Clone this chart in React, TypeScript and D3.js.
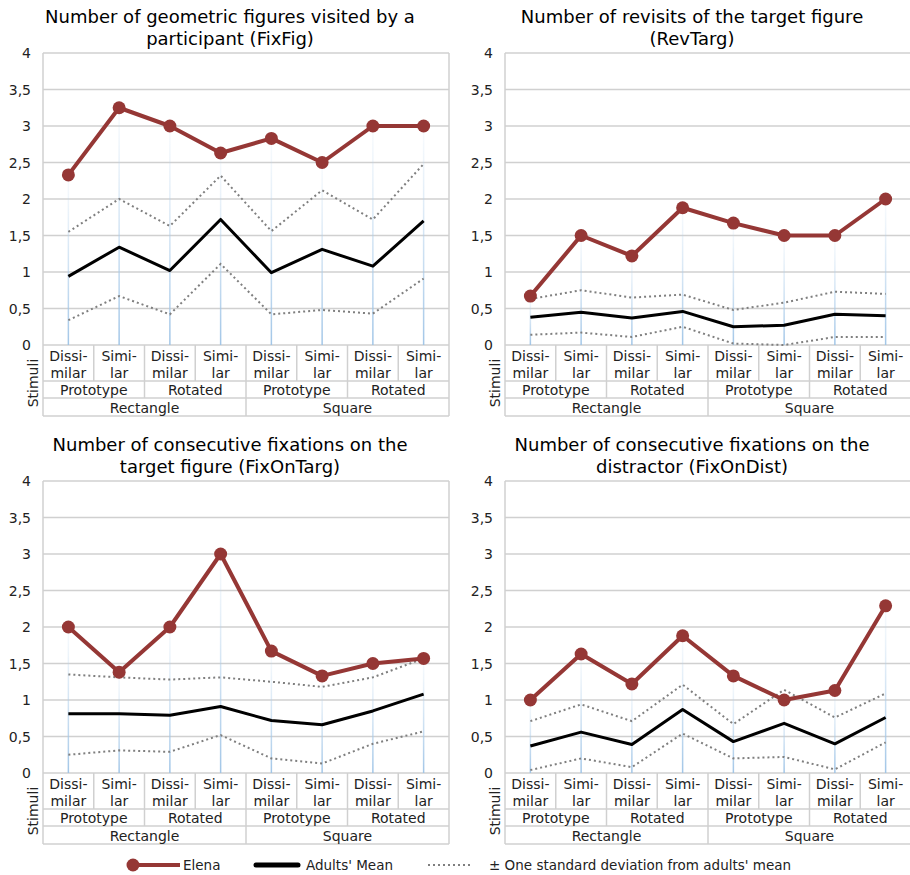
// eye-tracking results: Elena vs adults, four measures
import * as d3 from "d3";
import { useEffect, useRef } from "react";

const titles = [
  ["Number of geometric figures visited by a", "participant (FixFig)"],
  ["Number of revisits of the target figure", "(RevTarg)"],
  ["Number of consecutive fixations on the", "target figure (FixOnTarg)"],
  ["Number of consecutive fixations on the", "distractor (FixOnDist)"],
];

// stimulus categories (three levels)
const similarity = [["Dissi-", "milar"], ["Simi-", "lar"]];
const orientation = ["Prototype", "Rotated", "Prototype", "Rotated"];
const shape = ["Rectangle", "Square"];

const yTicks = [0, 0.5, 1, 1.5, 2, 2.5, 3, 3.5, 4];

// values per panel: FixFig, RevTarg, FixOnTarg, FixOnDist
const elena = [
  [2.33, 3.25, 3.0, 2.63, 2.83, 2.5, 3.0, 3.0],
  [0.67, 1.5, 1.22, 1.88, 1.67, 1.5, 1.5, 2.0],
  [2.0, 1.38, 2.0, 3.0, 1.67, 1.33, 1.5, 1.57],
  [1.0, 1.63, 1.22, 1.88, 1.33, 1.0, 1.13, 2.29],
];
const adultsMean = [
  [0.94, 1.34, 1.02, 1.72, 0.99, 1.31, 1.08, 1.7],
  [0.38, 0.45, 0.37, 0.46, 0.25, 0.27, 0.42, 0.4],
  [0.81, 0.81, 0.79, 0.91, 0.72, 0.66, 0.85, 1.08],
  [0.37, 0.56, 0.39, 0.87, 0.43, 0.68, 0.4, 0.76],
];
const sdUpper = [
  [1.55, 2.0, 1.63, 2.32, 1.56, 2.12, 1.72, 2.48],
  [0.63, 0.75, 0.65, 0.69, 0.48, 0.58, 0.73, 0.7],
  [1.35, 1.31, 1.28, 1.31, 1.25, 1.18, 1.31, 1.57],
  [0.71, 0.94, 0.71, 1.21, 0.67, 1.14, 0.76, 1.09],
];
const sdLower = [
  [0.34, 0.67, 0.42, 1.11, 0.42, 0.48, 0.43, 0.91],
  [0.14, 0.17, 0.11, 0.25, 0.02, 0.0, 0.11, 0.11],
  [0.25, 0.31, 0.29, 0.52, 0.2, 0.13, 0.4, 0.57],
  [0.04, 0.2, 0.08, 0.54, 0.2, 0.22, 0.05, 0.42],
];

const RED = "#953735";
const GRID = "#d0d0d0";
const FONT = "DejaVu Sans, Verdana, sans-serif";

export default function App() {
  const svgRef = useRef<SVGSVGElement>(null);

  useEffect(() => {
    const svg = d3.select(svgRef.current);
    svg.selectAll("*").remove();

    const W = 406;
    const H = 292;

    const grad = svg.append("defs").append("linearGradient")
      .attr("id", "drop").attr("x1", 0).attr("y1", 0).attr("x2", 0).attr("y2", 1);
    grad.append("stop").attr("offset", "0%").attr("stop-color", "#bdd7ee").attr("stop-opacity", 0.1);
    grad.append("stop").attr("offset", "100%").attr("stop-color", "#9dc3e6").attr("stop-opacity", 0.95);

    titles.forEach((title, pi) => {
      const left = pi % 2 === 0 ? 43 : 505;
      const top = pi < 2 ? 53 : 481;
      const titleX = pi % 2 === 0 ? 230 : 692;
      const g = svg.append("g");

      const x = d3.scalePoint<number>().domain(d3.range(8)).range([left, left + W]).padding(0.5);
      const y = d3.scaleLinear().domain([0, 4]).range([top + H, top]);
      const step = W / 8;

      // title
      g.append("text").attr("x", titleX).attr("y", top - 30).attr("text-anchor", "middle")
        .style("font-family", FONT).style("font-size", "18px").attr("fill", "#000").text(title[0]);
      g.append("text").attr("x", titleX).attr("y", top - 8).attr("text-anchor", "middle")
        .style("font-family", FONT).style("font-size", "18px").attr("fill", "#000").text(title[1]);

      // gridlines + tick labels
      g.selectAll(".grid").data(yTicks).enter().append("line")
        .attr("x1", left).attr("x2", left + W)
        .attr("y1", (d) => y(d)).attr("y2", (d) => y(d))
        .attr("stroke", GRID).attr("stroke-width", 1.5);
      g.selectAll(".tick").data(yTicks).enter().append("text")
        .attr("x", left - 12).attr("y", (d) => y(d) + 5).attr("text-anchor", "end")
        .style("font-family", FONT).style("font-size", "14px").attr("fill", "#222")
        .text((d) => String(d).replace(".", ","));

      // category table
      const rows = [top + H, top + H + 36, top + H + 53, top + H + 71];
      rows.slice(1).forEach((ry) => {
        g.append("line").attr("x1", left).attr("x2", left + W).attr("y1", ry).attr("y2", ry)
          .attr("stroke", GRID).attr("stroke-width", 1.5);
      });
      [left, left + W].forEach((vx) => {
        g.append("line").attr("x1", vx).attr("x2", vx).attr("y1", top).attr("y2", rows[3])
          .attr("stroke", GRID).attr("stroke-width", 1.5);
      });
      for (let k = 1; k < 8; k++) {
        const yEnd = k === 4 ? rows[3] : k % 2 === 0 ? rows[2] : rows[1];
        g.append("line").attr("x1", left + k * step).attr("x2", left + k * step)
          .attr("y1", rows[0]).attr("y2", yEnd).attr("stroke", GRID).attr("stroke-width", 1.5);
      }
      d3.range(8).forEach((k) => {
        const lab = similarity[k % 2];
        lab.forEach((s, li) => {
          g.append("text").attr("x", x(k)!).attr("y", rows[0] + 16 + li * 17).attr("text-anchor", "middle")
            .style("font-family", FONT).style("font-size", "14px").attr("fill", "#222").text(s);
        });
      });
      orientation.forEach((o, k) => {
        g.append("text").attr("x", left + (k * 2 + 1) * step).attr("y", rows[1] + 14).attr("text-anchor", "middle")
          .style("font-family", FONT).style("font-size", "14px").attr("fill", "#222").text(o);
      });
      shape.forEach((s, k) => {
        g.append("text").attr("x", left + (k * 4 + 2) * step).attr("y", rows[2] + 15).attr("text-anchor", "middle")
          .style("font-family", FONT).style("font-size", "14px").attr("fill", "#222").text(s);
      });
      g.append("text")
        .attr("transform", `translate(${left - 10},${rows[0] + 38}) rotate(-90)`)
        .attr("text-anchor", "middle").attr("dominant-baseline", "central")
        .style("font-family", FONT).style("font-size", "14px").attr("fill", "#222").text("Stimuli");

      // drop lines to Elena's values
      g.selectAll(".drop").data(elena[pi]).enter().append("rect")
        .attr("x", (d, i) => x(i)! - 0.75).attr("width", 1.5)
        .attr("y", (d) => y(d)).attr("height", (d) => y(0) - y(d))
        .attr("fill", "url(#drop)");

      const line = d3.line<number>().x((d, i) => x(i)!).y((d) => y(d));

      [sdUpper[pi], sdLower[pi]].forEach((vals) => {
        g.append("path").attr("d", line(vals)!).attr("fill", "none")
          .attr("stroke", "#7f7f7f").attr("stroke-width", 2).attr("stroke-dasharray", "2 3");
      });
      g.append("path").attr("d", line(adultsMean[pi])!).attr("fill", "none")
        .attr("stroke", "#000").attr("stroke-width", 3).attr("stroke-linejoin", "round");
      g.append("path").attr("d", line(elena[pi])!).attr("fill", "none")
        .attr("stroke", RED).attr("stroke-width", 4).attr("stroke-linejoin", "round");
      g.selectAll(".dot").data(elena[pi]).enter().append("circle")
        .attr("cx", (d, i) => x(i)!).attr("cy", (d) => y(d)).attr("r", 6.5).attr("fill", RED);
    });

    // legend
    const ly = 865;
    const lg = svg.append("g").style("font-family", FONT).style("font-size", "13.5px");
    lg.append("line").attr("x1", 133).attr("x2", 180).attr("y1", ly).attr("y2", ly)
      .attr("stroke", RED).attr("stroke-width", 4);
    lg.append("circle").attr("cx", 133).attr("cy", ly).attr("r", 6.5).attr("fill", RED);
    lg.append("text").attr("x", 183).attr("y", ly + 5).attr("fill", "#222").text("Elena");
    lg.append("line").attr("x1", 256).attr("x2", 298).attr("y1", ly).attr("y2", ly)
      .attr("stroke", "#000").attr("stroke-width", 5).attr("stroke-linecap", "round");
    lg.append("text").attr("x", 306).attr("y", ly + 5).attr("fill", "#222").text("Adults' Mean");
    lg.append("line").attr("x1", 428).attr("x2", 472).attr("y1", ly).attr("y2", ly)
      .attr("stroke", "#7f7f7f").attr("stroke-width", 2).attr("stroke-dasharray", "2 3");
    lg.append("text").attr("x", 489).attr("y", ly + 5).attr("fill", "#222")
      .text("± One standard deviation from adults' mean");
  }, []);

  return (
    <svg
      ref={svgRef}
      width={910}
      height={875}
      style={{ position: "absolute", left: 0, top: 0, background: "#fff" }}
    />
  );
}
